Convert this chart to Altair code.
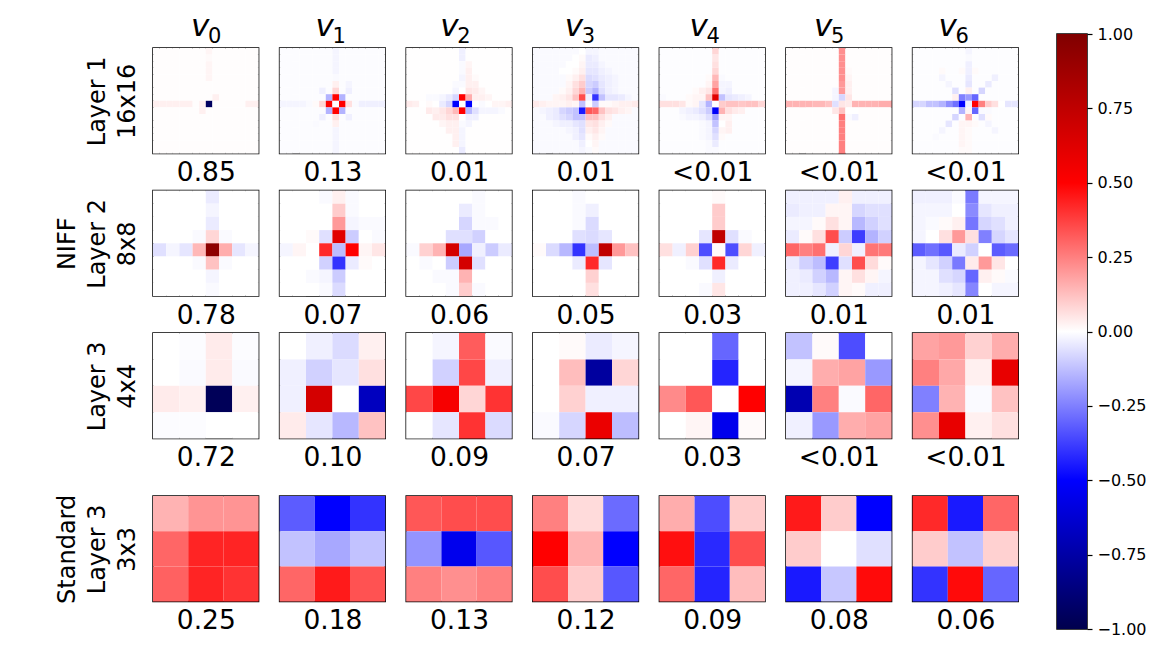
import altair as alt
import pandas as pd

# values in hundredths; sparse for 16x16 (row -> {col: value}), everything else is the background
L1_BG = [0.4, -0.5, 0.2, -1.0, -0.3, 0.3, -0.3]
L1_V0 = {0:{8:2},1:{8:1},2:{8:2},3:{8:2},4:{8:2},7:{9:3},
         8:{0:3,1:3,2:3,3:3,4:3,5:3,7:3,8:-95,14:3,15:3},9:{7:3}}
L1_V1 = {0:{8:-2},1:{8:-2},2:{8:-2},3:{8:-2},4:{8:-1},5:{8:3,10:-2},
         6:{6:-3,8:8,10:-3},7:{7:-15,8:50,9:-15},
         8:{0:-2,1:-2,2:-2,3:-2,4:-1,5:1,6:8,7:50,8:0,9:50,10:6,11:-1,12:-3,13:-3,14:-3,15:-3},
         9:{7:-15,8:50,9:-15},10:{6:-3,8:6,10:-3},11:{5:-1,8:3},12:{8:-2},13:{8:-2},14:{8:-2},15:{8:-2}}
L1_V2 = {0:{8:-3},1:{8:-3},2:{8:-1,9:2},3:{8:-1,9:3},4:{8:-2,9:3,10:1},5:{7:-1,8:-1,9:3,10:3},
         6:{7:-2,8:0,9:5,10:4,11:2},7:{3:-1,4:-1,5:-2,6:-4,7:-8,8:50,9:16,10:3,11:3,12:2},
         8:{0:4,1:3,2:0,3:1,4:0,5:-4,6:-8,7:-50,8:0,9:-50,10:0,11:-1,12:0,13:2,14:2,15:3},
         9:{3:4,4:3,5:5,6:8,7:14,8:50,9:-14,10:-6,11:-2,12:-2,13:-2,14:-1},
         10:{4:4,5:4,6:6,7:6,8:0,9:-3,10:-3},11:{5:2,6:3,7:3,8:-1,9:-2},12:{6:3,7:3,8:-2},
         13:{7:3,8:-2},14:{7:3,8:-2},15:{8:-4}}
L1_V3 = {0:{7:0,8:-2,9:-2},1:{6:0,7:1,8:-4,9:-3,10:-1},2:{5:0,6:0,7:2,8:-4,9:-4,10:-2},
         3:{4:0,5:0,6:1,7:3,8:-5,9:-5,10:-3,11:-2},4:{5:1,6:3,7:6,8:-7,9:-6,10:-4,11:-3,12:-2},
         5:{5:2,6:6,7:10,8:-8,9:-10,10:-5,11:-3,12:-2},6:{4:1,5:3,6:8,7:15,8:-10,9:-15,10:-6,11:-3,12:-2},
         7:{3:2,4:3,5:5,6:12,7:35,8:-3,9:-40,10:-12,11:-5,12:-5,13:-4,14:-2},
         8:{0:4,1:3,2:2,3:2,4:2,5:3,6:2,7:-12,8:0,9:-10,10:1,11:1,12:2,13:3,14:3,15:4},
         9:{1:-2,2:-3,3:-4,4:-8,5:-10,6:-12,7:-45,8:33,9:30,10:12,11:6,12:5,13:3,14:2},
         10:{2:-3,3:-4,4:-6,5:-8,6:-12,7:-12,8:12,9:12,10:6,11:3},
         11:{3:-2,4:-3,5:-3,6:-5,7:-6,8:5,9:6,10:3,11:1},12:{5:-2,6:-3,7:-6,8:3,9:5,10:2},
         13:{6:-3,7:-5,8:1,9:3,10:1},14:{7:-3,8:0,9:2},15:{7:-2,9:1}}
L1_V4 = {0:{8:8},1:{8:5},2:{8:6},3:{8:8},4:{7:1,8:14,9:-1},5:{7:2,8:18,9:-2,10:-2},
         6:{5:1,6:3,7:5,8:28,9:-2,10:-3},7:{0:-1,4:1,5:2,6:2,7:12,8:62,9:-12,10:-5,11:-4,12:-3,13:-2},
         8:{0:6,1:6,2:6,3:5,4:1,5:2,6:-5,7:-15,8:0,9:10,10:12,11:12,12:11,13:12,14:12,15:8},
         9:{3:-2,4:-3,5:-4,6:-6,7:-10,8:-52,9:15,10:6,11:4,12:3},10:{3:-1,4:-2,5:-2,6:-3,7:-6,8:-18,9:2,10:2},
         11:{6:-1,7:-2,8:-12,9:0,10:3},12:{6:-1,7:-2,8:-8,9:2,10:3},13:{6:-1,7:-2,8:-6,9:1},14:{7:-1,8:-4},15:{7:-1,8:-1}}
L1_V5 = {0:{8:22},1:{8:22},2:{8:22},3:{8:22,9:1},4:{8:22,9:2},5:{8:20,9:3},6:{7:-2,8:20,9:3},7:{7:-2,8:-8,9:5},
         8:{0:15,1:15,2:15,3:15,4:14,5:14,6:12,7:-6,8:5,9:4,10:15,11:15,12:15,13:15,14:16,15:16},
         9:{7:5,8:12,9:0,10:0},10:{8:28,9:-1,10:-3},11:{8:25},12:{8:25},13:{8:25},14:{8:25},15:{8:25}}
L1_V6 = {0:{8:-2},1:{8:-1},2:{8:-3},3:{4:1,7:1,8:-3,9:1},4:{4:-2,8:-4,12:-3},5:{5:-2,8:-5,11:-4},
         6:{6:-6,8:3,10:-8},7:{6:3,7:-25,8:-20,9:-30},
         8:{0:-8,1:-8,2:-12,3:-12,4:-15,5:-22,6:-28,7:-50,8:-3,9:50,10:25,11:10,12:6,13:0,14:-5,15:-5},
         9:{7:-15,8:2,9:-30,10:-1,11:-1},10:{6:-8,8:15,10:-6,11:1},11:{5:-5,7:2,8:2,9:1,11:-2},
         12:{4:-2,7:2,8:1,12:-2},13:{3:-1,7:2,8:1},14:{7:2,8:1},15:{7:1,8:1}}

L2_V0 = [[0,0,0,0,-4,0,0,0],[0,0,0,0,-2,0,0,0],[0,0,0,0,-4,0,0,0],[0,0,0,-1,8,-1,0,0],
         [-6,-2,-5,14,95,16,-5,-2],[0,0,0,-1,12,-1,0,0],[0,0,0,0,-2,0,0,0],[0,0,0,0,-1,0,0,0]]
L2_V1 = [[0,0,0,-1,3,-1,0,0],[0,0,0,0,10,-1,0,0],[0,0,0,0,20,-2,-1,-1],[0,0,1,-6,62,-10,0,-1],
         [-2,2,0,42,-13,50,2,5],[0,0,0,-9,-40,-4,1,0],[0,0,-1,-2,-10,0,0,0],[0,0,0,-1,-7,0,0,0]]
L2_V2 = [[0,0,0,0,0,-1,0,0],[0,0,0,0,-4,-1,0,0],[0,0,0,0,-8,-1,-1,0],[0,0,0,-6,-6,-9,0,0],
         [-1,9,15,67,-17,-3,-10,-4],[0,-1,0,-10,67,-6,0,0],[0,0,-1,-1,15,0,0,0],[0,0,0,-1,10,-1,0,0]]
L2_V3 = [[0,0,0,-1,0,0,0,0],[0,0,0,-1,-3,0,0,0],[0,0,0,-1,-7,0,0,0],[0,0,0,-6,-7,-5,0,0],
         [1,-7,-14,-40,-13,75,20,12],[0,0,0,-4,42,-5,0,0],[0,0,0,0,9,0,0,0],[0,0,0,0,6,0,0,0]]
L2_V4 = [[0,0,0,0,1,0,0,0],[0,0,0,0,10,0,0,0],[0,0,0,0,10,0,0,0],[0,0,0,-5,75,-6,-1,0],
         [6,-3,9,-35,1,-35,8,-3],[0,0,-1,-6,42,-4,0,0],[0,0,0,0,-3,0,0,0],[0,0,0,-1,5,0,0,0]]
L2_V5 = [[-3,-3,-3,-3,3,-3,-3,-3],[-4,-3,-3,2,2,-8,-6,-6],[-2,-2,1,6,2,-14,-9,-6],[-4,1,6,35,-10,-38,-15,-9],
         [30,25,28,-3,8,-3,27,26],[-4,-9,-13,-38,-6,35,7,1],[-3,-4,-9,-14,2,6,2,-2],[-3,-3,-5,-9,2,1,-3,-3]]
L2_V6 = [[-3,-3,-3,-1,-26,-2,-2,-2],[-2,-2,-2,0,-23,-5,-3,-3],[-2,-1,1,3,-27,-8,-6,-3],[-2,0,6,20,6,-25,-8,-5],
         [-32,-28,-33,-4,-9,0,-32,-29],[-2,-5,-9,-26,4,20,5,0],[-2,-2,-6,-8,-30,3,1,-1],[-2,-2,-3,-5,-24,0,-2,-2]]

L3_V0 = [[0,-0.5,4,-0.5],[0,-1,4,-1],[4,3,-97,3],[-0.5,-0.5,0,0]]
L3_V1 = [[0,-3,-7,3],[-3,-9,-5,6],[-3,67,0,-68],[4,-5,-14,12]]
L3_V2 = [[0,-2,32,-1],[0,-9,36,-3],[36,53,8,40],[0,-5,40,-7]]
L3_V3 = [[0,1,-4,-2],[0,13,-77,8],[0,9,-3,-3],[-1,-8,58,-13]]
L3_V4 = [[0,0,-30,0],[0,0,-43,0],[23,33,0,50],[0,2,-55,1]]
L3_V5 = [[-12,1,-35,0],[-2,16,18,-20],[-72,25,-1,30],[-3,-20,16,18]]
L3_V6 = [[18,20,9,16],[25,17,3,59],[-25,15,-1,12],[22,59,3,6]]

S3_V0 = [[15,21,21],[30,43,43],[31,43,40]]
S3_V1 = [[-32,-50,-40],[-12,-17,-12],[30,45,34]]
S3_V2 = [[33,35,35],[-21,-55,-33],[25,22,25]]
S3_V3 = [[25,7,-29],[50,15,-50],[35,10,-33]]
S3_V4 = [[16,-35,10],[47,-42,35],[30,-43,13]]
S3_V5 = [[45,10,-50],[10,0,-6],[-45,-11,48]]
S3_V6 = [[42,-45,30],[10,-12,9],[-40,48,-30]]

COL_SUBS = ["0", "1", "2", "3", "4", "5", "6"]
ROW_TITLES = [[" ", "Layer 1", "16x16"], ["NIFF", "Layer 2", "8x8"],
              [" ", "Layer 3", "4x4"], ["Standard", "Layer 3", "3x3"]]
SHARES = [["0.85", "0.13", "0.01", "0.01", "<0.01", "<0.01", "<0.01"],
          ["0.78", "0.07", "0.06", "0.05", "0.03", "0.01", "0.01"],
          ["0.72", "0.10", "0.09", "0.07", "0.03", "<0.01", "<0.01"],
          ["0.25", "0.18", "0.13", "0.12", "0.09", "0.08", "0.06"]]
STOP_VALUES = [-1, -0.5, 0, 0.5, 1]
STOP_COLORS = ["#00004d", "#0000ff", "#ffffff", "#ff0000", "#800000"]
CBAR_TICKS = [-1, -0.75, -0.5, -0.25, 0, 0.25, 0.5, 0.75, 1]

FONT = "DejaVu Sans"
P = 105.6


def expand(sparse, bg):
    return [[sparse.get(r, {}).get(c, bg) for c in range(16)] for r in range(16)]


GRIDS = [
    [expand(s, b) for s, b in zip([L1_V0, L1_V1, L1_V2, L1_V3, L1_V4, L1_V5, L1_V6], L1_BG)],
    [L2_V0, L2_V1, L2_V2, L2_V3, L2_V4, L2_V5, L2_V6],
    [L3_V0, L3_V1, L3_V2, L3_V3, L3_V4, L3_V5, L3_V6],
    [S3_V0, S3_V1, S3_V2, S3_V3, S3_V4, S3_V5, S3_V6],
]

color_scale = alt.Scale(domain=STOP_VALUES, range=STOP_COLORS, interpolate="rgb")


def panel(i, j):
    grid = GRIDS[i][j]
    df = pd.DataFrame([{"r": r, "c": c, "v": v / 100}
                       for r, row in enumerate(grid) for c, v in enumerate(row)])
    if j == 0:
        y_axis = alt.Axis(title=ROW_TITLES[i], labels=False, ticks=False, domain=False, grid=False,
                          titleFont=FONT, titleFontSize=24, titleFontWeight="normal", titleColor="black",
                          titleLineHeight=30, titlePadding=14)
    else:
        y_axis = None
    return alt.Chart(df).mark_rect().encode(
        x=alt.X("c:O", axis=alt.Axis(title=SHARES[i][j], labels=False, ticks=False, domain=False, grid=False,
                                     titleFont=FONT, titleFontSize=26.5, titleFontWeight="normal",
                                     titleColor="black", titlePadding=6)),
        y=alt.Y("r:O", axis=y_axis),
        color=alt.Color("v:Q", scale=color_scale, legend=None),
    ).properties(width=P, height=P)


def header(j):
    letter = alt.Chart(pd.DataFrame({"t": ["v"]})).mark_text(
        font=FONT, fontSize=31, fontStyle="italic", align="left", baseline="alphabetic", color="black"
    ).encode(text="t:N", x=alt.value(38), y=alt.value(21))
    sub = alt.Chart(pd.DataFrame({"t": [COL_SUBS[j]]})).mark_text(
        font=FONT, fontSize=21, align="left", baseline="alphabetic", color="black"
    ).encode(text="t:N", x=alt.value(55), y=alt.value(28))
    return alt.layer(letter, sub).properties(width=P, height=28, view=alt.ViewBackground(stroke=None))


def row(i):
    return alt.hconcat(*[panel(i, j) for j in range(7)], spacing=18.6)


header_row = alt.hconcat(*[header(j) for j in range(7)], spacing=18.6)
upper = alt.vconcat(row(0), row(1), row(2), spacing=2.5)
grid_chart = alt.vconcat(alt.vconcat(header_row, upper, spacing=0), row(3), spacing=21)

cbar_df = pd.DataFrame({"low": [STOP_VALUES[0]], "high": [STOP_VALUES[-1]]})
gradient = alt.LinearGradient(
    gradient="linear", x1=0, x2=0, y1=1, y2=0,
    stops=[alt.GradientStop(color=c, offset=(v + 1) / 2) for v, c in zip(STOP_VALUES, STOP_COLORS)],
)
cbar = alt.Chart(cbar_df).mark_rect(color=gradient).encode(
    x=alt.value(0), x2=alt.value(30),
    y=alt.Y("low:Q", scale=alt.Scale(domain=[-1, 1], nice=False),
            axis=alt.Axis(orient="right", values=CBAR_TICKS, format=".2f", title=None, grid=False,
                          domain=False, tickColor="black", tickSize=5, tickWidth=1.2,
                          labelFont=FONT, labelFontSize=16, labelColor="black", labelPadding=5)),
    y2="high:Q",
).properties(width=30, height=595)
cbar_gap = alt.Chart(pd.DataFrame({"t": [""]})).mark_text().encode(text="t:N").properties(
    width=30, height=10, view=alt.ViewBackground(stroke=None))

chart = alt.hconcat(grid_chart, alt.vconcat(cbar_gap, cbar, spacing=0), spacing=37).properties(
    padding={"left": 46, "top": 3, "right": 5, "bottom": 5}, background="white"
).configure_view(stroke="black", strokeWidth=1.5).configure_concat(spacing=0)

chart.save("out.html", embed_options={"renderer": "svg", "actions": False})
